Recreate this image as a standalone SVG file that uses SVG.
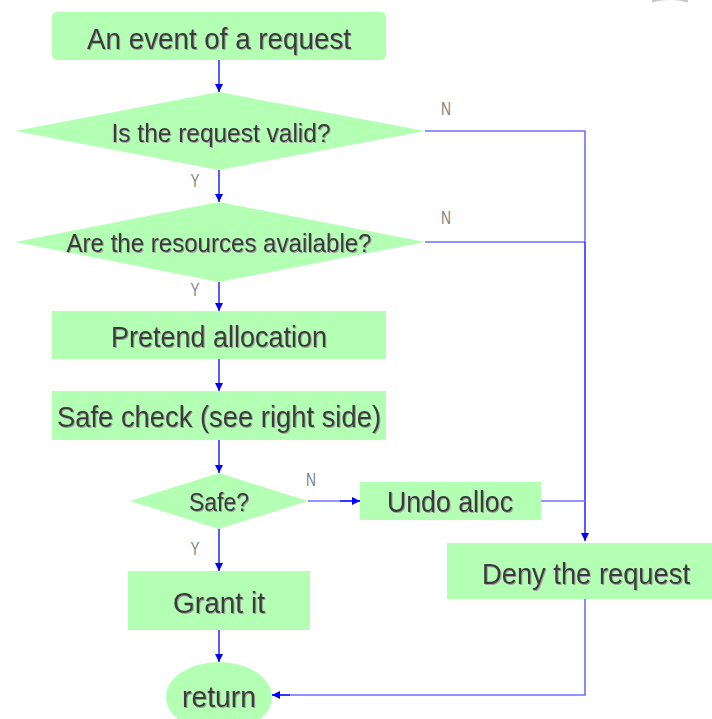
<svg xmlns="http://www.w3.org/2000/svg" width="712" height="719" viewBox="0 0 712 719">
<style>
.n{fill:#b3ffb3;stroke:none}
.t{font-family:"Liberation Sans",Arial,sans-serif;fill:#3a3a3a;text-anchor:middle;filter:url(#sh)}
.b{font-size:29px}
.d{font-size:26px}
.l{font-family:"Liberation Sans",Arial,sans-serif;font-size:19px;fill:#808080;text-anchor:middle}
.c{fill:none;stroke:#0000ff;stroke-width:1.3}
.c2{fill:none;stroke:#6f6fff;stroke-width:1.6}
</style>
<defs>
<marker id="ah" viewBox="0 0 10 10" refX="10" refY="5" markerWidth="8" markerHeight="8" markerUnits="userSpaceOnUse" orient="auto">
<path d="M0,0 L10,5 L0,10 z" fill="#0000ff"/>
</marker>
<filter id="sh" x="-5%" y="-20%" width="110%" height="140%">
<feDropShadow dx="1" dy="1" stdDeviation="0.6" flood-color="#9a9a9a" flood-opacity="0.9"/>
</filter>
</defs>
<rect width="712" height="719" fill="#ffffff"/>
<path d="M652,1 Q670,-4 688,1" fill="none" stroke="#c8c8c8" stroke-width="3"/>
<g id="connectors">
<line class="c" x1="219" y1="60" x2="219" y2="92" marker-end="url(#ah)"/>
<line class="c" x1="219" y1="170" x2="219" y2="202" marker-end="url(#ah)"/>
<line class="c" x1="219" y1="282" x2="219" y2="311" marker-end="url(#ah)"/>
<line class="c" x1="219" y1="359" x2="219" y2="391" marker-end="url(#ah)"/>
<line class="c" x1="219" y1="440" x2="219" y2="473" marker-end="url(#ah)"/>
<line class="c" x1="219" y1="528" x2="219" y2="571" marker-end="url(#ah)"/>
<line class="c" x1="219" y1="630" x2="219" y2="662" marker-end="url(#ah)"/>
<polyline class="c2" points="425,131 585,131 585,242"/>
<line class="c2" x1="425" y1="242" x2="585" y2="242"/>
<line class="c" x1="585" y1="242" x2="585" y2="541" marker-end="url(#ah)" stroke-width="1.6"/>
<line class="c2" x1="308" y1="501" x2="360" y2="501"/>
<line class="c" x1="340" y1="501" x2="360" y2="501" marker-end="url(#ah)"/>
<line class="c2" x1="541" y1="501" x2="585" y2="501"/>
<polyline class="c2" points="585,599 585,695 272,695"/>
<line class="c" x1="290" y1="695" x2="272" y2="695" marker-end="url(#ah)"/>
<text class="l" x="446" y="115" textLength="10" lengthAdjust="spacingAndGlyphs">N</text>
<text class="l" x="446" y="224" textLength="10" lengthAdjust="spacingAndGlyphs">N</text>
<text class="l" x="195" y="187" textLength="9" lengthAdjust="spacingAndGlyphs">Y</text>
<text class="l" x="195" y="296" textLength="9" lengthAdjust="spacingAndGlyphs">Y</text>
<text class="l" x="311" y="486" textLength="10" lengthAdjust="spacingAndGlyphs">N</text>
<text class="l" x="195" y="555" textLength="9" lengthAdjust="spacingAndGlyphs">Y</text>
</g>
<g id="start">
<rect class="n" x="52" y="12" width="334" height="48" rx="5"/>
<text class="t b" x="219" y="49" textLength="264" lengthAdjust="spacingAndGlyphs">An event of a request</text>
</g>
<g id="valid">
<polygon class="n" points="219,92 425,131 219,170 15,131"/>
<text class="t d" x="221" y="142" textLength="219" lengthAdjust="spacingAndGlyphs">Is the request valid?</text>
</g>
<g id="available">
<polygon class="n" points="219,202 425,242 219,282 15,242"/>
<text class="t d" x="219" y="252" textLength="305" lengthAdjust="spacingAndGlyphs">Are the resources available?</text>
</g>
<g id="pretend">
<rect class="n" x="52" y="311" width="334" height="48"/>
<text class="t b" x="219" y="347" textLength="216" lengthAdjust="spacingAndGlyphs">Pretend allocation</text>
</g>
<g id="safecheck">
<rect class="n" x="52" y="391" width="334" height="49"/>
<text class="t b" x="219" y="427" textLength="324" lengthAdjust="spacingAndGlyphs">Safe check (see right side)</text>
</g>
<g id="safe">
<polygon class="n" points="219,473 308,501 219,529 130,501"/>
<text class="t d" x="219" y="511" textLength="60" lengthAdjust="spacingAndGlyphs">Safe?</text>
</g>
<g id="undo">
<rect class="n" x="360" y="482" width="181" height="38"/>
<text class="t b" x="450" y="512" textLength="126" lengthAdjust="spacingAndGlyphs">Undo alloc</text>
</g>
<g id="deny">
<rect class="n" x="447" y="543" width="265" height="56"/>
<text class="t b" x="586" y="584" textLength="208" lengthAdjust="spacingAndGlyphs">Deny the request</text>
</g>
<g id="grant">
<rect class="n" x="128" y="571" width="182" height="59"/>
<text class="t b" x="219" y="613" textLength="92" lengthAdjust="spacingAndGlyphs">Grant it</text>
</g>
<g id="return">
<ellipse class="n" cx="219" cy="697" rx="53" ry="35"/>
<text class="t b" x="219" y="707" textLength="74" lengthAdjust="spacingAndGlyphs">return</text>
</g>
</svg>
